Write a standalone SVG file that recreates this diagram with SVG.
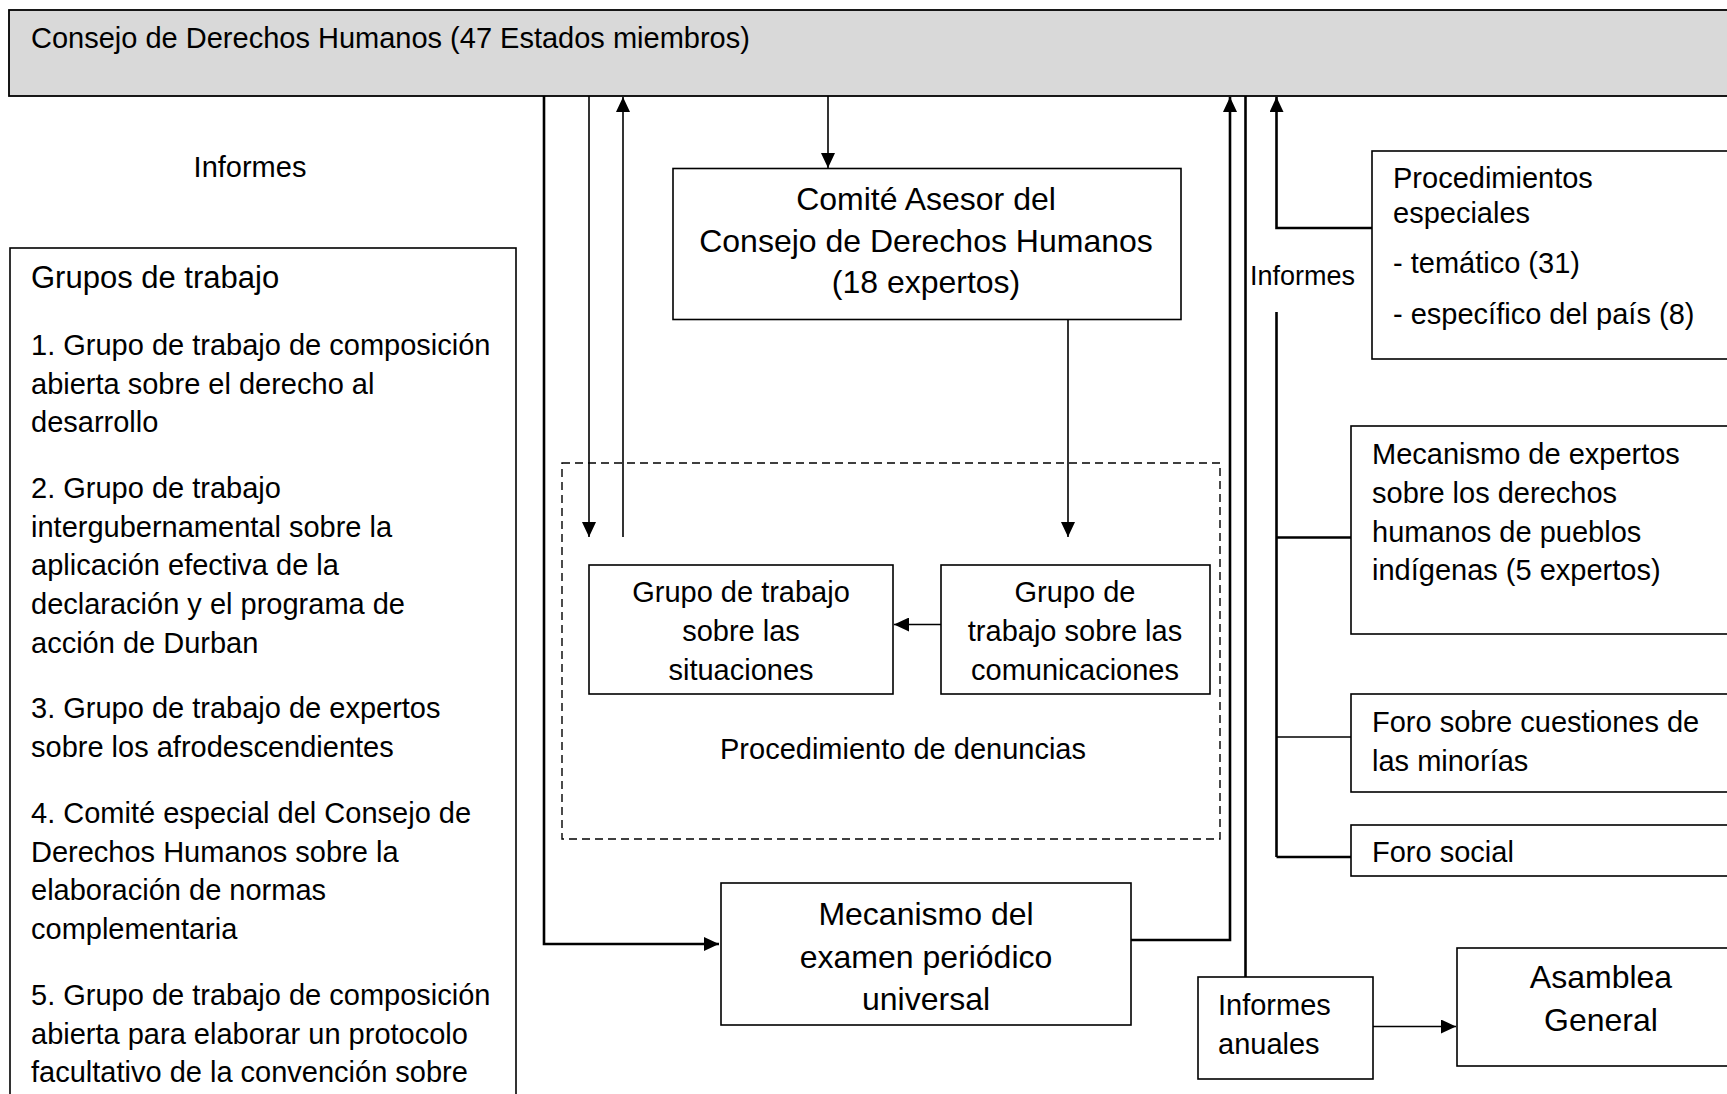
<svg xmlns="http://www.w3.org/2000/svg" width="1727" height="1094" viewBox="0 0 1727 1094">
<style>
text{font-family:"Liberation Sans",Arial,sans-serif;fill:#000;font-size:29px}
.big{font-size:32px}
.c{text-anchor:middle}
.box{fill:#fff;stroke:#000;stroke-width:1.6}
.ln{fill:none;stroke:#000;stroke-width:1.6}
.thk{fill:none;stroke:#000;stroke-width:2.6}
</style>
<defs>
<marker id="ah" markerUnits="userSpaceOnUse" markerWidth="16" markerHeight="14" refX="15" refY="7" orient="auto">
<path d="M0,0 L15,7 L0,14 Z" fill="#000"/>
</marker>
</defs>

<g id="consejo">
<rect x="9" y="10" width="1730" height="86" fill="#d9d9d9" stroke="#000" stroke-width="1.8"/>
<text x="31" y="48">Consejo de Derechos Humanos (47 Estados miembros)</text>
</g>

<g id="label-informes-left">
<text x="250" y="177" class="c">Informes</text>
</g>

<g id="grupos-trabajo">
<rect class="box" x="10" y="248" width="506" height="880"/>
<text x="31" y="288" style="font-size:31px">Grupos de trabajo</text>
<text x="31" y="355">1. Grupo de trabajo de composición</text>
<text x="31" y="394">abierta sobre el derecho al</text>
<text x="31" y="432">desarrollo</text>
<text x="31" y="498">2. Grupo de trabajo</text>
<text x="31" y="537">intergubernamental sobre la</text>
<text x="31" y="575">aplicación efectiva de la</text>
<text x="31" y="614">declaración y el programa de</text>
<text x="31" y="653">acción de Durban</text>
<text x="31" y="718">3. Grupo de trabajo de expertos</text>
<text x="31" y="757">sobre los afrodescendientes</text>
<text x="31" y="823">4. Comité especial del Consejo de</text>
<text x="31" y="862">Derechos Humanos sobre la</text>
<text x="31" y="900">elaboración de normas</text>
<text x="31" y="939">complementaria</text>
<text x="31" y="1005">5. Grupo de trabajo de composición</text>
<text x="31" y="1044">abierta para elaborar un protocolo</text>
<text x="31" y="1082">facultativo de la convención sobre</text>
</g>

<g id="comite-asesor">
<rect class="box" x="673" y="168.5" width="508" height="151"/>
<text class="big c" x="926" y="210">Comité Asesor del</text>
<text class="big c" x="926" y="252">Consejo de Derechos Humanos</text>
<text class="big c" x="926" y="293">(18 expertos)</text>
</g>

<g id="procedimiento-denuncias">
<rect x="562" y="463" width="658" height="376" fill="none" stroke="#000" stroke-width="1.4" stroke-dasharray="8,5"/>
<text class="c" x="903" y="759">Procedimiento de denuncias</text>
</g>

<g id="grupo-situaciones">
<rect class="box" x="589" y="565" width="304" height="129"/>
<text class="c" x="741" y="602">Grupo de trabajo</text>
<text class="c" x="741" y="641">sobre las</text>
<text class="c" x="741" y="680">situaciones</text>
</g>

<g id="grupo-comunicaciones">
<rect class="box" x="941" y="565" width="269" height="129"/>
<text class="c" x="1075" y="602">Grupo de</text>
<text class="c" x="1075" y="641">trabajo sobre las</text>
<text class="c" x="1075" y="680">comunicaciones</text>
</g>

<g id="mecanismo-epu">
<rect class="box" x="721" y="883" width="410" height="142"/>
<text class="big c" x="926" y="925">Mecanismo del</text>
<text class="big c" x="926" y="968">examen periódico</text>
<text class="big c" x="926" y="1010">universal</text>
</g>

<g id="label-informes-right">
<text x="1250" y="285" style="font-size:27px">Informes</text>
</g>

<g id="procedimientos-especiales">
<rect class="box" x="1372" y="151" width="370" height="208"/>
<text x="1393" y="188">Procedimientos</text>
<text x="1393" y="223">especiales</text>
<text x="1393" y="273">- temático (31)</text>
<text x="1393" y="324">- específico del país (8)</text>
</g>

<g id="mecanismo-expertos">
<rect class="box" x="1351" y="426" width="390" height="208"/>
<text x="1372" y="464">Mecanismo de expertos</text>
<text x="1372" y="503">sobre los derechos</text>
<text x="1372" y="542">humanos de pueblos</text>
<text x="1372" y="580">indígenas (5 expertos)</text>
</g>

<g id="foro-minorias">
<rect class="box" x="1351" y="694" width="390" height="98"/>
<text x="1372" y="732">Foro sobre cuestiones de</text>
<text x="1372" y="771">las minorías</text>
</g>

<g id="foro-social">
<rect class="box" x="1351" y="825" width="390" height="51"/>
<text x="1372" y="862">Foro social</text>
</g>

<g id="informes-anuales">
<rect class="box" x="1198" y="977" width="175" height="102"/>
<text x="1218" y="1015">Informes</text>
<text x="1218" y="1054">anuales</text>
</g>

<g id="asamblea-general">
<rect class="box" x="1457" y="948" width="285" height="118"/>
<text class="big c" x="1601" y="988">Asamblea</text>
<text class="big c" x="1601" y="1031">General</text>
</g>

<g id="connectors">
<polyline class="thk" points="544,96 544,944 719,944" marker-end="url(#ah)"/>
<line class="ln" x1="589" y1="96" x2="589" y2="537" marker-end="url(#ah)"/>
<line class="ln" x1="623" y1="537" x2="623" y2="97" marker-end="url(#ah)"/>
<line class="ln" x1="828" y1="96" x2="828" y2="168" marker-end="url(#ah)"/>
<line class="ln" x1="1068" y1="320" x2="1068" y2="537" marker-end="url(#ah)"/>
<line class="ln" x1="941" y1="624.5" x2="894" y2="624.5" marker-end="url(#ah)"/>
<polyline class="thk" points="1131,940 1230,940 1230,97" marker-end="url(#ah)"/>
<line class="thk" x1="1245.5" y1="96" x2="1245.5" y2="977"/>
<polyline class="thk" points="1372,228 1276.5,228 1276.5,97" marker-end="url(#ah)"/>
<line class="thk" x1="1276.5" y1="312" x2="1276.5" y2="857"/>
<line class="thk" x1="1276.5" y1="537.5" x2="1351" y2="537.5"/>
<line class="ln" x1="1276.5" y1="737" x2="1351" y2="737"/>
<line class="thk" x1="1276.5" y1="857" x2="1351" y2="857"/>
<line class="ln" x1="1373" y1="1026.5" x2="1456" y2="1026.5" marker-end="url(#ah)"/>
</g>
</svg>
